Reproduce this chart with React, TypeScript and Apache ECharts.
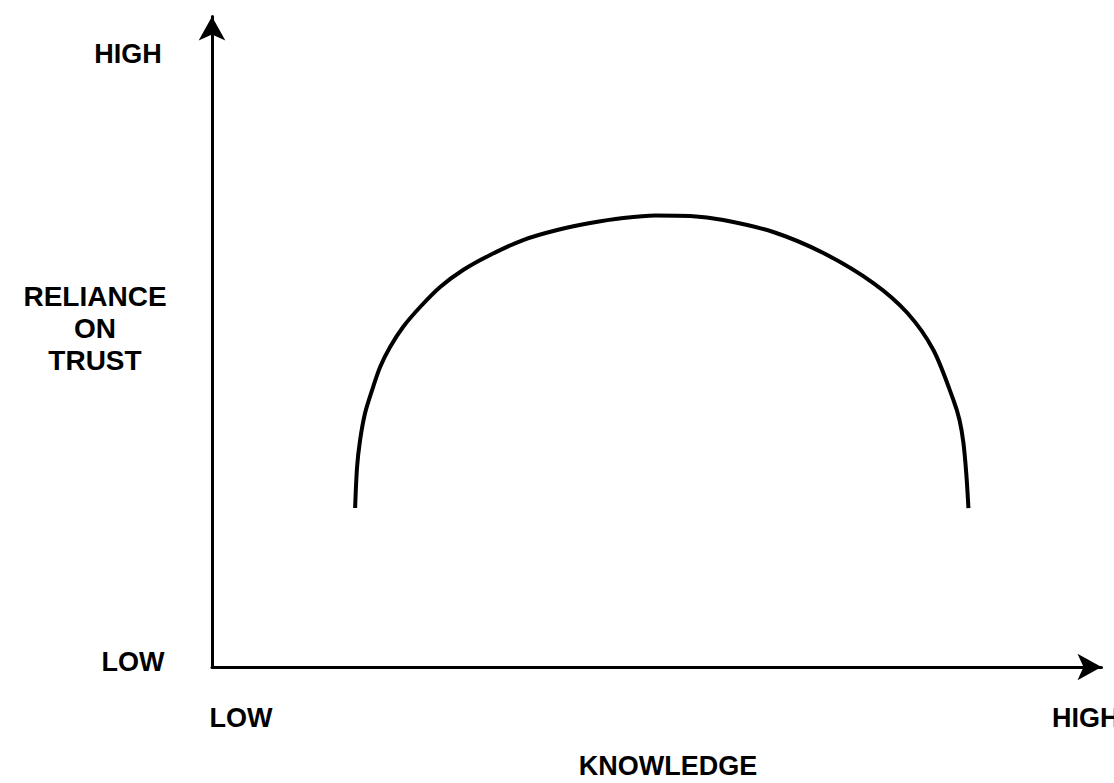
import React, { useEffect, useRef } from "react";
import * as echarts from "echarts";

// Curve: reliance on trust (y) against knowledge (x), both on a 0–100 scale
const knowledge = [
  16.09, 16.31, 16.65, 17.21, 18.0, 18.9, 20.02, 21.48, 23.4, 25.65, 28.23, 31.27, 34.98, 38.81, 42.52, 46.23, 49.83,
  53.77, 57.48, 63.1, 68.73, 74.35, 78.18, 81.1, 83.35, 84.03, 84.48, 84.81, 85.04,
];
const reliance = [
  24.44, 30.75, 34.9, 39.05, 42.58, 46.12, 49.19, 52.27, 55.34, 58.42, 61.03, 63.34, 65.64, 67.18, 68.25, 69.02, 69.41,
  69.33, 68.72, 66.87, 63.64, 59.03, 54.42, 48.73, 41.05, 38.0, 34.43, 29.52, 24.44,
];

const yLabels = ["LOW", "HIGH"];
const xLabels = ["LOW", "HIGH"];
const yTitle = "RELIANCE\nON\nTRUST";
const xTitle = "KNOWLEDGE";

const FONT = 'bold 27px "Liberation Sans", Arial, Helvetica, sans-serif';
const TITLE_FONT = 'bold 28px "Liberation Sans", Arial, Helvetica, sans-serif';

export default function App() {
  const ref = useRef<HTMLDivElement>(null);
  useEffect(() => {
    document.body.style.margin = "0";
    const chart = echarts.init(ref.current!, null, { renderer: "svg" });
    const axisLine = {
      show: true,
      symbol: ["none", "arrow"],
      symbolSize: [20, 24],
      lineStyle: { color: "#000", width: 3 },
    };
    chart.setOption({
      animation: false,
      backgroundColor: "#fff",
      grid: { left: 212, right: 12.5, top: 16.5, bottom: 116 },
      xAxis: {
        type: "value",
        min: 0,
        max: 100,
        axisLine,
        axisTick: { show: false },
        axisLabel: { show: false },
        splitLine: { show: false },
      },
      yAxis: {
        type: "value",
        min: 0,
        max: 100,
        axisLine,
        axisTick: { show: false },
        axisLabel: { show: false },
        splitLine: { show: false },
      },
      series: [
        {
          type: "line",
          data: knowledge.map((x, i) => [x, reliance[i]]),
          smooth: 0.3,
          showSymbol: false,
          lineStyle: { color: "#000", width: 4 },
        },
      ],
      graphic: [
        { type: "text", style: { text: yLabels[1], x: 128, y: 54, align: "center", verticalAlign: "middle", font: FONT, fill: "#000" } },
        { type: "text", style: { text: yLabels[0], x: 133, y: 662, align: "center", verticalAlign: "middle", font: FONT, fill: "#000" } },
        { type: "text", style: { text: yTitle, x: 95, y: 328, align: "center", verticalAlign: "middle", font: TITLE_FONT, lineHeight: 32, fill: "#000" } },
        { type: "text", style: { text: xLabels[0], x: 241, y: 718, align: "center", verticalAlign: "middle", font: FONT, fill: "#000" } },
        { type: "text", style: { text: xLabels[1], x: 1052, y: 718, align: "left", verticalAlign: "middle", font: FONT, fill: "#000" } },
        { type: "text", style: { text: xTitle, x: 668, y: 766, align: "center", verticalAlign: "middle", font: FONT, fill: "#000" } },
      ],
    });
    return () => chart.dispose();
  }, []);
  return <div ref={ref} style={{ position: "absolute", left: 0, top: 0, width: 1114, height: 783 }} />;
}
